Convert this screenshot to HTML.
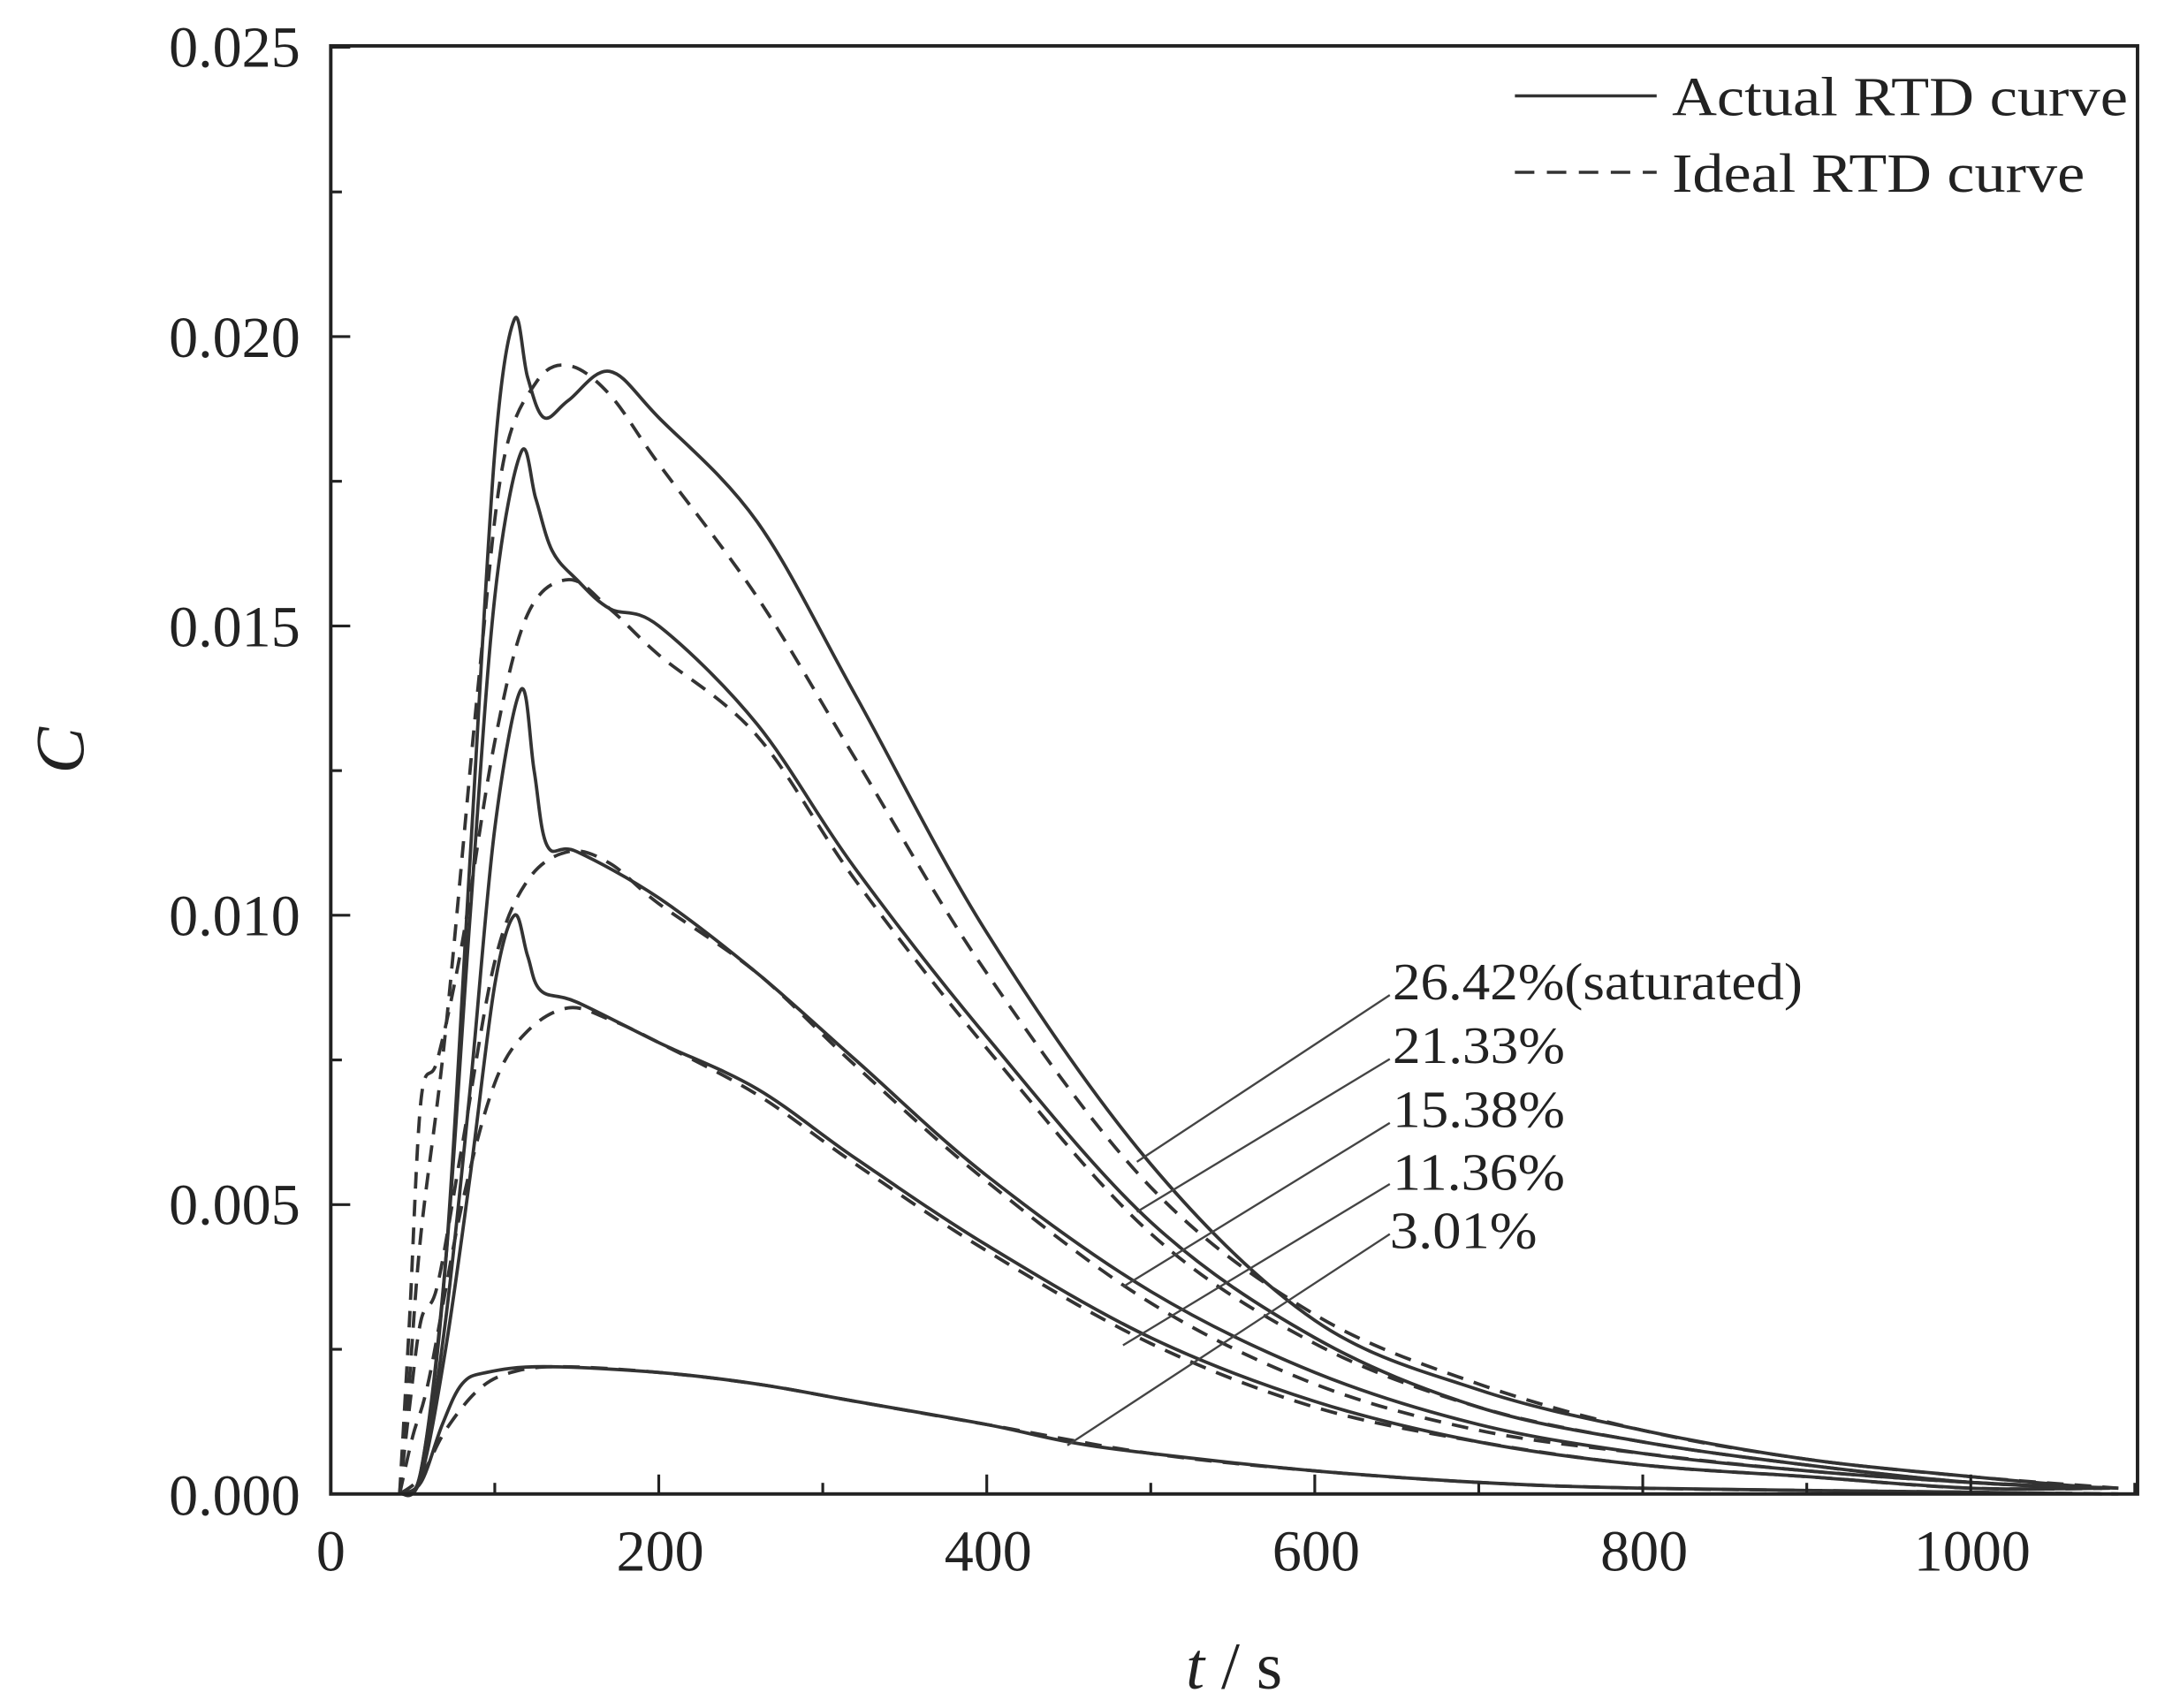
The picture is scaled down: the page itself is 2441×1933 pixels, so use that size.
<!DOCTYPE html>
<html><head><meta charset="utf-8"><style>
html,body{margin:0;padding:0;background:#fff;}
svg{display:block;}
text{font-family:"Liberation Serif",serif;fill:#222;}
</style></head><body>
<svg id="s" width="2441" height="1933" viewBox="0 0 1552 1229" xmlns="http://www.w3.org/2000/svg">
<rect x="0" y="0" width="1552" height="1229" fill="#fff"/>
<g id="curves" fill="none" stroke="#333" stroke-width="2.4"></g>
<rect x="238" y="33" width="1300" height="1042" fill="none" stroke="#222" stroke-width="2.5"/>
<g id="ticks" stroke="#222" stroke-width="2"></g>
<g font-size="42" text-anchor="end">
<text x="216" y="48">0.025</text>
<text x="216" y="257">0.020</text>
<text x="216" y="465">0.015</text>
<text x="216" y="673">0.010</text>
<text x="216" y="881">0.005</text>
<text x="216" y="1090">0.000</text>
</g>
<g font-size="42" text-anchor="middle">
<text x="238" y="1130">0</text>
<text x="475" y="1130">200</text>
<text x="711" y="1130">400</text>
<text x="947" y="1130">600</text>
<text x="1183" y="1130">800</text>
<text x="1419" y="1130">1000</text>
</g>
<text x="888" y="1215" font-size="48" text-anchor="middle"><tspan font-style="italic">t</tspan> / s</text>
<text x="60" y="540" font-size="50" font-style="italic" text-anchor="middle" transform="rotate(-90 60 540)">C</text>
<line x1="1090" y1="69" x2="1192" y2="69" stroke="#333" stroke-width="2.2"/>
<line x1="1090" y1="124" x2="1192" y2="124" stroke="#333" stroke-width="2.2" stroke-dasharray="14,9"/>
<text x="1203" y="83" font-size="40" textLength="328" lengthAdjust="spacingAndGlyphs">Actual RTD curve</text>
<text x="1203" y="138" font-size="40" textLength="297" lengthAdjust="spacingAndGlyphs">Ideal RTD curve</text>
<g font-size="38">
<text x="1002" y="719" textLength="295" lengthAdjust="spacingAndGlyphs">26.42%(saturated)</text>
<text x="1002" y="765" textLength="124" lengthAdjust="spacingAndGlyphs">21.33%</text>
<text x="1002" y="811" textLength="124" lengthAdjust="spacingAndGlyphs">15.38%</text>
<text x="1002" y="856" textLength="124" lengthAdjust="spacingAndGlyphs">11.36%</text>
<text x="1000" y="898" textLength="106" lengthAdjust="spacingAndGlyphs">3.01%</text>
</g>
<g stroke="#444" stroke-width="1.5">
<line x1="1000" y1="716" x2="818" y2="836"/>
<line x1="1000" y1="762" x2="818" y2="872"/>
<line x1="1000" y1="808" x2="808" y2="926"/>
<line x1="1000" y1="852" x2="808" y2="968"/>
<line x1="1000" y1="888" x2="768" y2="1040"/>
</g>
</svg>
<script>
const X=t=>238+1.18*t, Y=c=>1075-41640*c;
function path(pts){
 const p=pts.map(a=>[X(a[0]),Y(a[1])]);
 let d="M"+p[0][0]+","+p[0][1];
 for(let i=0;i<p.length-1;i++){
  const p0=p[i-1]||p[i],p1=p[i],p2=p[i+1],p3=p[i+2]||p2;
  const c1=[p1[0]+(p2[0]-p0[0])/6,p1[1]+(p2[1]-p0[1])/6];
  const c2=[p2[0]-(p3[0]-p1[0])/6,p2[1]-(p3[1]-p1[1])/6];
  d+=` C${c1[0]},${c1[1]} ${c2[0]},${c2[1]} ${p2[0]},${p2[1]}`;
 }
 return d;
}
const A=[
[[42,0],[55,0.0004],[70,0.004],[85,0.011],[100,0.018],[112,0.0203],[120,0.0193],[130,0.0186],[145,0.0189],[170,0.0194],[200,0.0186],[260,0.0168],[320,0.0138],[400,0.0097],[500,0.0057],[600,0.0030],[700,0.0018],[800,0.0011],[900,0.0006],[1000,0.0003],[1080,0.0001]],
[[42,0],[55,0.0004],[70,0.004],[85,0.010],[100,0.0155],[116,0.018],[125,0.0172],[135,0.0163],[150,0.0158],[170,0.0153],[200,0.0150],[260,0.0133],[320,0.0108],[400,0.0079],[500,0.0047],[600,0.0027],[700,0.0015],[800,0.0009],[900,0.0005],[1000,0.0002],[1080,0.0001]],
[[42,0],[55,0.0003],[70,0.003],[85,0.007],[100,0.0115],[116,0.0139],[124,0.0125],[132,0.0112],[150,0.0111],[200,0.0103],[260,0.0090],[320,0.0075],[400,0.0055],[500,0.0035],[600,0.0021],[700,0.0012],[800,0.0007],[900,0.0004],[1000,0.0002],[1080,0.0001]],
[[42,0],[55,0.0003],[70,0.0025],[85,0.0055],[100,0.0088],[112,0.0100],[120,0.0093],[128,0.0087],[150,0.0085],[200,0.0078],[260,0.0070],[320,0.0058],[400,0.0043],[500,0.0027],[600,0.0016],[700,0.0009],[800,0.0005],[900,0.0003],[1000,0.0001],[1080,0.0001]],
[[42,0],[55,0.0002],[68,0.0012],[80,0.0019],[95,0.0021],[130,0.0022],[200,0.0021],[260,0.0019],[320,0.0016],[400,0.0012],[450,0.0009],[500,0.0007],[600,0.0004],[700,0.0002],[800,0.0001],[1000,0.00003],[1080,0]]
];
const I=[
[[42,0],[48,0.002],[55,0.0045],[70,0.008],[90,0.014],[105,0.0178],[125,0.0192],[145,0.0195],[170,0.0190],[200,0.0178],[260,0.0155],[320,0.0127],[400,0.0090],[500,0.0053],[600,0.0031],[700,0.0019],[800,0.0011],[900,0.0006],[1000,0.0003],[1090,0.0001]],
[[42,0],[48,0.003],[55,0.0068],[65,0.0075],[80,0.0095],[100,0.013],[120,0.0152],[145,0.0158],[170,0.0153],[200,0.0145],[260,0.0131],[320,0.0106],[400,0.0077],[500,0.0045],[600,0.0026],[700,0.0015],[800,0.0009],[900,0.0005],[1000,0.0002],[1090,0.0001]],
[[42,0],[48,0.0015],[55,0.003],[65,0.0036],[80,0.006],[100,0.0092],[120,0.0106],[145,0.0111],[170,0.0109],[200,0.0102],[260,0.0090],[320,0.0074],[400,0.0054],[500,0.0033],[600,0.0019],[700,0.0011],[800,0.0007],[900,0.0004],[1000,0.0002],[1090,0.0001]],
[[42,0],[50,0.001],[60,0.002],[80,0.005],[100,0.0071],[120,0.0080],[145,0.0084],[170,0.0082],[200,0.0078],[260,0.0069],[320,0.0057],[400,0.0042],[500,0.0026],[600,0.0015],[700,0.0009],[800,0.0005],[900,0.0003],[1000,0.0001],[1090,0.0001]],
[[42,0],[55,0.0003],[70,0.0011],[90,0.0018],[110,0.0021],[140,0.0022],[200,0.0021],[260,0.0019],[320,0.0016],[400,0.0012],[500,0.0007],[600,0.0004],[700,0.0002],[800,0.0001],[1000,0.00003],[1090,0]]
];
const g=document.getElementById("curves");let h="";
A.forEach(p=>h+=`<path d="${path(p)}"/>`);
I.forEach(p=>h+=`<path d="${path(p)}" stroke-dasharray="12,8"/>`);
g.innerHTML=h;
let t="";
for(let v=0;v<=1100;v+=100){const x=X(v);const L=v%200===0?14:8;t+=`<line x1="${x}" y1="1075" x2="${x}" y2="${1075-L}"/>`;}
for(let k=0;k<=10;k++){const y=1075-k*104.1;const L=k%2===0?14:8;t+=`<line x1="238" y1="${y}" x2="${238+L}" y2="${y}"/>`;}
document.getElementById("ticks").innerHTML=t;
</script>
</body></html>
